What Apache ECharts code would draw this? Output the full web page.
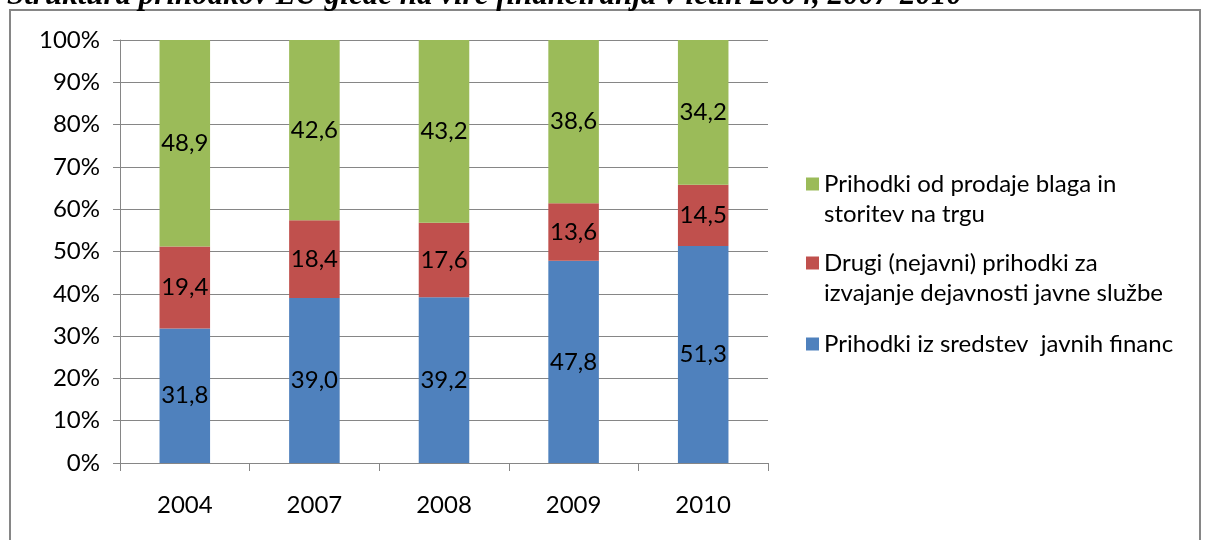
<!DOCTYPE html>
<html>
<head>
<meta charset="utf-8">
<script src="https://cdn.jsdelivr.net/npm/echarts@6/dist/echarts.min.js"></script>
<style>
html,body{margin:0;padding:0;background:#fff;}
#chart{width:1208px;height:540px;}
</style>
</head>
<body>
<div id="chart"></div>
<script>
var categories = ['2004', '2007', '2008', '2009', '2010'];
var javniFinance = [31.8, 39.0, 39.2, 47.8, 51.3];
var drugiPrihodki = [19.4, 18.4, 17.6, 13.6, 14.5];
var prodaja = [48.9, 42.6, 43.2, 38.6, 34.2];
var yTicks = [0, 10, 20, 30, 40, 50, 60, 70, 80, 90, 100];

var nameBlue = 'Prihodki iz sredstev  javnih financ';
var nameRed = 'Drugi (nejavni) prihodki za izvajanje dejavnosti javne službe';
var nameGreen = 'Prihodki od prodaje blaga in storitev na trgu';
var legendLines = {};
legendLines[nameGreen] = ['Prihodki od prodaje blaga in', 'storitev na trgu'];
legendLines[nameRed] = ['Drugi (nejavni) prihodki za', 'izvajanje dejavnosti javne službe'];
legendLines[nameBlue] = ['Prihodki iz sredstev  javnih financ'];

var FONT = 'Lato';
var FS = 24;
var chart = echarts.init(document.getElementById('chart'));

function fmt(p) { return p.value.toFixed(1).replace('.', ','); }

function legendFormatter(name) {
  var l = legendLines[name];
  if (l.length === 1) return '{t|' + l[0] + '}';
  return '{s|}\n{t|' + l[0] + '}\n{t|' + l[1] + '}';
}
var legendRich = {
  s: { height: 30, lineHeight: 30 },
  t: { fontFamily: FONT, fontSize: FS, color: '#000', lineHeight: 30, height: 30 }
};
function mkLegend(name, top) {
  return {
    data: [name], left: 801, top: top, orient: 'vertical',
    icon: 'rect', itemWidth: 13, itemHeight: 13, itemGap: 0,
    selectedMode: false,
    formatter: legendFormatter,
    textStyle: { rich: legendRich, fontFamily: FONT, fontSize: FS }
  };
}

function barSeries(name, data, color) {
  return {
    name: name, type: 'bar', stack: 'total', data: data,
    barWidth: '39%',
    itemStyle: { color: color },
    label: { show: true, position: 'inside', formatter: fmt,
             fontFamily: FONT, fontSize: FS, color: '#000' }
  };
}

chart.setOption({
  animation: false,
  title: {
    text: 'Struktura prihodkov LU glede na vire financiranja v letih 2004, 2007-2010',
    left: 2, top: -25,
    textStyle: { fontFamily: 'Liberation Serif', fontStyle: 'italic', fontWeight: 'bold', fontSize: 31, color: '#000' }
  },
  graphic: [{
    type: 'rect', shape: { x: 10, y: 10, width: 1190, height: 560 },
    style: { fill: null, stroke: '#868686', lineWidth: 2 }, silent: true, z: -1
  }],
  legend: [
    mkLegend(nameGreen, 134),
    mkLegend(nameRed, 213),
    mkLegend(nameBlue, 324)
  ],
  grid: { left: 120, right: 440, top: 40, bottom: 77, containLabel: false },
  xAxis: {
    type: 'category', data: categories,
    axisLine: { show: true, lineStyle: { color: '#868686', width: 1 } },
    axisTick: { show: true, length: 8, lineStyle: { color: '#868686' } },
    axisLabel: { fontFamily: FONT, fontSize: FS, color: '#000', margin: 30 }
  },
  yAxis: {
    type: 'value', min: 0, max: 100, interval: 10,
    axisLine: { show: true, lineStyle: { color: '#868686', width: 1 } },
    axisTick: { show: true, length: 7, lineStyle: { color: '#868686' } },
    axisLabel: { fontFamily: FONT, fontSize: FS, color: '#000', margin: 20,
                 formatter: function (v) { return yTicks.indexOf(v) >= 0 ? v + '%' : ''; } },
    splitLine: { show: true, lineStyle: { color: '#868686', width: 1 } }
  },
  series: [
    barSeries(nameBlue, javniFinance, '#4F81BD'),
    barSeries(nameRed, drugiPrihodki, '#C0504D'),
    barSeries(nameGreen, prodaja, '#9BBB59')
  ]
});
</script>
</body>
</html>
